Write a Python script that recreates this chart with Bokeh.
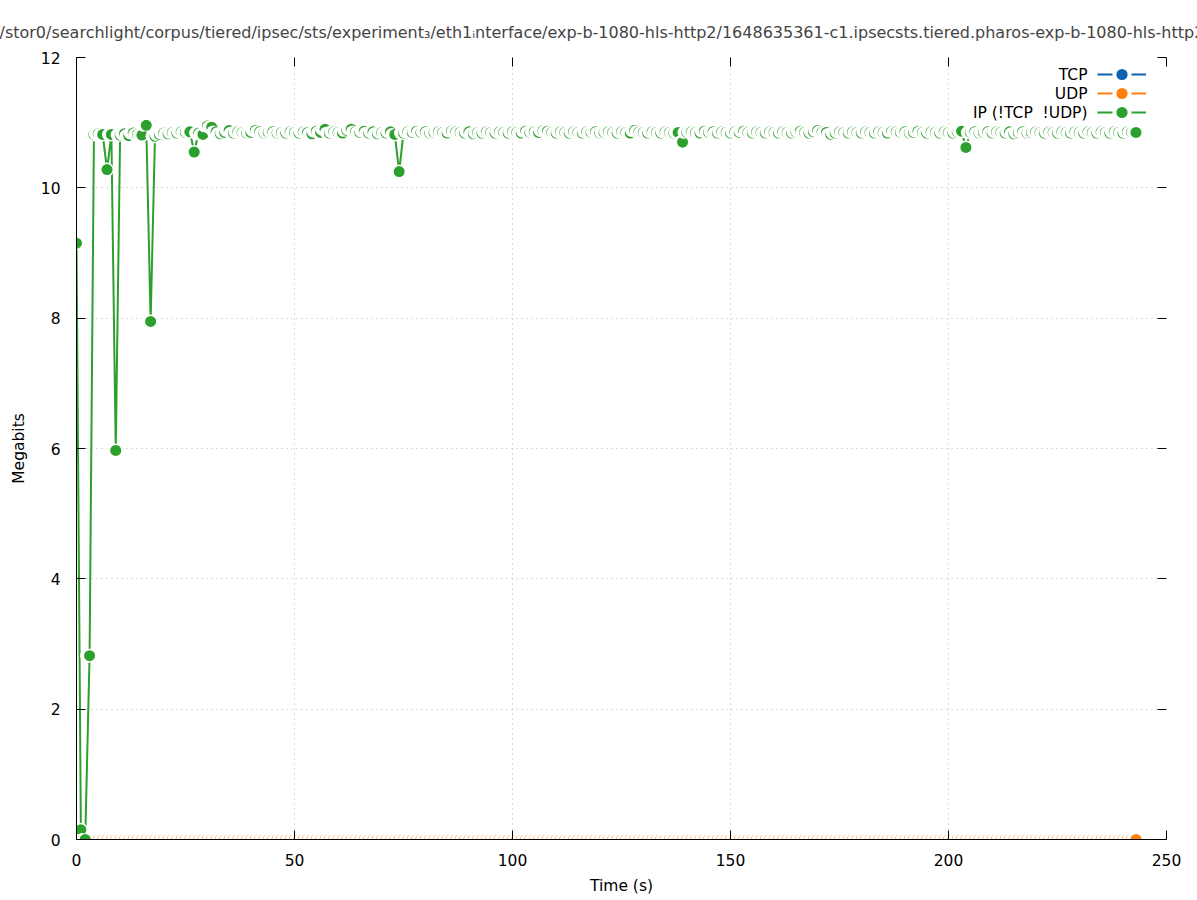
import numpy as np
from bokeh.plotting import figure
from bokeh.models import LinearAxis, Legend, LegendItem, Label, FixedTicker, ColumnDataSource
from bokeh.embed import file_html
from bokeh.resources import INLINE

# ---------------- data ----------------
TITLE = ("/stor0/searchlight/corpus/tiered/ipsec/sts/experiment\u2083/eth1\u1d62nterface/"
         "exp-b-1080-hls-http2/1648635361-c1.ipsecsts.tiered.pharos-exp-b-1080-hls-http2")

SERIES_NAMES = ["TCP", "UDP", "IP (!TCP \u00a0!UDP)"]
SERIES_COLORS = ["#0b62b0", "#ff7f0e", "#2ca02c"]

IP_MBITS = [
    9.15, 0.15, 0.00, 2.82, 10.82, 10.83, 10.82, 10.28, 10.82, 5.97,
    10.81, 10.83, 10.80, 10.84, 10.82, 10.81, 10.96, 7.95, 10.79, 10.82,
    10.84, 10.83, 10.85, 10.84, 10.86, 10.85, 10.86, 10.55, 10.84, 10.82,
    10.95, 10.93, 10.86, 10.83, 10.85, 10.88, 10.84, 10.86, 10.85, 10.84,
    10.85, 10.88, 10.86, 10.84, 10.85, 10.86, 10.84, 10.85, 10.84, 10.86,
    10.85, 10.84, 10.86, 10.85, 10.83, 10.87, 10.85, 10.90, 10.84, 10.86,
    10.85, 10.84, 10.88, 10.90, 10.86, 10.85, 10.87, 10.84, 10.86, 10.83,
    10.85, 10.84, 10.86, 10.82, 10.25, 10.84, 10.86, 10.85, 10.87, 10.85,
    10.86, 10.84, 10.85, 10.86, 10.85, 10.84, 10.87, 10.86, 10.85, 10.84,
    10.86, 10.83, 10.85, 10.84, 10.86, 10.85, 10.84, 10.86, 10.85, 10.84,
    10.86, 10.85, 10.84, 10.87, 10.85, 10.86, 10.85, 10.88, 10.87, 10.85,
    10.84, 10.86, 10.85, 10.84, 10.86, 10.85, 10.84, 10.86, 10.85, 10.86,
    10.84, 10.85, 10.86, 10.85, 10.84, 10.86, 10.85, 10.84, 10.88, 10.86,
    10.85, 10.84, 10.86, 10.85, 10.84, 10.86, 10.85, 10.84, 10.85, 10.70,
    10.85, 10.86, 10.85, 10.84, 10.87, 10.85, 10.86, 10.84, 10.86, 10.85,
    10.84, 10.86, 10.85, 10.87, 10.85, 10.84, 10.86, 10.85, 10.84, 10.86,
    10.85, 10.84, 10.86, 10.85, 10.84, 10.86, 10.87, 10.85, 10.84, 10.86,
    10.88, 10.86, 10.85, 10.82, 10.84, 10.86, 10.85, 10.84, 10.86, 10.85,
    10.84, 10.86, 10.85, 10.84, 10.86, 10.85, 10.84, 10.87, 10.86, 10.85,
    10.86, 10.84, 10.85, 10.87, 10.85, 10.84, 10.86, 10.85, 10.84, 10.86,
    10.85, 10.84, 10.86, 10.87, 10.62, 10.85, 10.86, 10.84, 10.85, 10.86,
    10.84, 10.86, 10.85, 10.84, 10.86, 10.83, 10.85, 10.86, 10.84, 10.85,
    10.86, 10.85, 10.84, 10.86, 10.85, 10.84, 10.86, 10.85, 10.84, 10.86,
    10.85, 10.84, 10.86, 10.85, 10.84, 10.86, 10.85, 10.84, 10.86, 10.85,
    10.84, 10.86, 10.85, 10.85,
]
TIME_S = list(range(len(IP_MBITS)))          # one sample per second
TCP_MBITS = [0.0] * len(TIME_S)
UDP_MBITS = [0.0] * len(TIME_S)

X_TICKS = [0, 50, 100, 150, 200, 250]
Y_TICKS = [0, 2, 4, 6, 8, 10, 12]

# ---------------- style ----------------
FONT = "DejaVu Sans"
FS = "15.5px"
DOT = 11
HALO_W = 3
MASK = 12.8
MASK_SHIFT_S = 0.3       # blank behind each point, shifted ~1px to the right

p = figure(frame_width=1090, frame_height=782, x_range=(0, 250), y_range=(0, 12),
           output_backend="svg", toolbar_location=None,
           min_border_left=76, min_border_right=31, min_border_top=57, min_border_bottom=61)
p.outline_line_color = None
p.background_fill_color = "white"

p.title.text = TITLE
p.title.text_font = FONT
p.title.text_font_size = "16px"
p.title.text_font_style = "normal"
p.title.align = "left"
p.title.offset = -77
p.title.standoff = 31

for ax, ticks in ((p.xaxis[0], X_TICKS), (p.yaxis[0], Y_TICKS)):
    ax.ticker = FixedTicker(ticks=ticks)
    ax.major_tick_in = 9
    ax.major_tick_out = 0
    ax.minor_tick_in = 0
    ax.minor_tick_out = 0
    ax.minor_tick_line_color = None
    ax.axis_line_color = "black"
    ax.major_tick_line_color = "black"
    ax.major_label_text_font = FONT
    ax.major_label_text_font_size = FS
    ax.major_label_text_color = "black"
    ax.axis_label_text_font = FONT
    ax.axis_label_text_font_size = FS
    ax.axis_label_text_font_style = "normal"
    ax.axis_label_text_color = "black"
p.xaxis.axis_label = "Time (s)"
p.yaxis.axis_label = "Megabits"
p.xaxis.major_label_standoff = 14
p.xaxis.axis_label_standoff = 8
p.yaxis.major_label_standoff = 16
p.yaxis.axis_label_standoff = 10

for side, ticks in (("above", X_TICKS), ("right", Y_TICKS)):
    mirror = LinearAxis(ticker=FixedTicker(ticks=ticks), axis_line_color=None,
                        major_tick_in=9, major_tick_out=0,
                        minor_tick_in=0, minor_tick_out=0, minor_tick_line_color=None,
                        major_label_overrides={t: "" for t in ticks},
                        major_label_standoff=0)
    p.add_layout(mirror, side)

p.xgrid.ticker = FixedTicker(ticks=X_TICKS)
p.ygrid.ticker = FixedTicker(ticks=Y_TICKS)
for g in (p.xgrid[0], p.ygrid[0]):
    g.grid_line_color = "#b8b8b8"
    g.grid_line_dash = "1 4"
    g.grid_line_width = 1


def draw_series(t, v, color):
    t = np.asarray(t, dtype=float)
    v = np.asarray(v, dtype=float)
    ln = p.line(t, v, line_color=color, line_width=2)
    p.scatter(t, v, size=DOT, fill_color="white", line_color="white", line_width=HALO_W)
    # each point, then a blank at the next sample's level (none after the last)
    nxt = np.append(v[1:], np.nan)
    n = len(t)
    xs = np.empty(2 * n); ys = np.empty(2 * n)
    xs[0::2] = t; xs[1::2] = t + MASK_SHIFT_S
    ys[0::2] = v; ys[1::2] = nxt
    colors = [color, "white"] * n
    sizes = [DOT, MASK] * n
    src = ColumnDataSource(dict(x=xs, y=ys, c=colors, s=sizes))
    dots = p.scatter("x", "y", source=src, size="s", fill_color="c", line_color=None)
    return ln, dots


# wide blank around the legend sample point (shown in the legends only)
legend_gap = p.scatter(TIME_S, IP_MBITS, size=DOT, fill_color="white", line_color="white",
                       line_width=8, visible=False)

series_data = [TCP_MBITS, UDP_MBITS, IP_MBITS]
ROW_STEP = 19
for i, (name, vals, col) in enumerate(zip(SERIES_NAMES, series_data, SERIES_COLORS)):
    ln, dots = draw_series(TIME_S, vals, col)
    item = LegendItem(label=" ", renderers=[ln, legend_gap, dots], index=0)
    lg = Legend(items=[item], location=(1021, 751 - ROW_STEP * i),
                glyph_width=49, glyph_height=28, padding=0, margin=0,
                label_standoff=0, label_width=18, label_height=0,
                label_text_font=FONT, label_text_font_size=FS,
                inactive_fill_alpha=0,
                background_fill_alpha=0, border_line_color=None)
    p.add_layout(lg)
    # legend text, to the left of its sample, right aligned
    p.add_layout(Label(x=1011, y=765 - ROW_STEP * i, x_units="screen", y_units="screen",
                       text=name, text_align="right", text_baseline="middle",
                       text_font=FONT, text_font_size=FS, text_color="black"))

open("out.html", "w").write(file_html(p, INLINE))
